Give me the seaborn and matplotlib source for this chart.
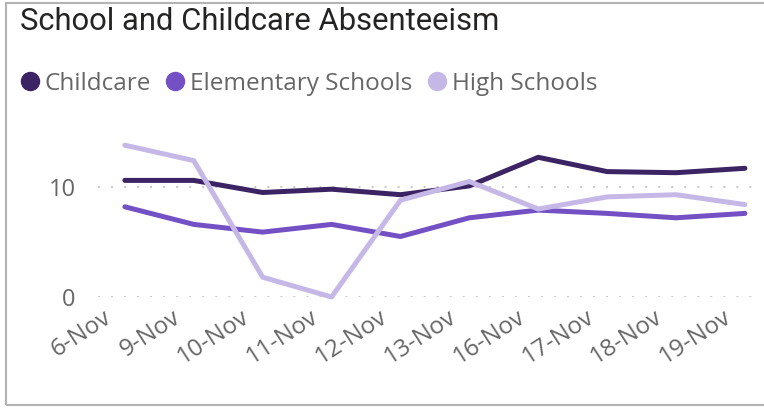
import pandas as pd
import matplotlib
matplotlib.use("Agg")
import matplotlib.pyplot as plt
import seaborn as sns
from matplotlib.lines import Line2D
from matplotlib.patches import Rectangle
from matplotlib.transforms import ScaledTranslation

dates = ["6-Nov", "9-Nov", "10-Nov", "11-Nov", "12-Nov",
         "13-Nov", "16-Nov", "17-Nov", "18-Nov", "19-Nov"]
childcare = [10.6, 10.6, 9.5, 9.8, 9.3, 10.1, 12.7, 11.4, 11.3, 11.7]
elementary = [8.2, 6.6, 5.9, 6.6, 5.5, 7.2, 7.9, 7.6, 7.2, 7.6]
high_schools = [13.8, 12.4, 1.8, 0.0, 8.8, 10.5, 8.0, 9.1, 9.3, 8.4]

series = ["Childcare", "Elementary Schools", "High Schools"]
colors = ["#3C2363", "#7450C5", "#C6B8E6"]

df = pd.concat([
    pd.DataFrame({"date": dates, "value": childcare, "group": series[0]}),
    pd.DataFrame({"date": dates, "value": elementary, "group": series[1]}),
    pd.DataFrame({"date": dates, "value": high_schools, "group": series[2]}),
])

sns.set_style("white")
plt.rcParams["font.family"] = ["Open Sans", "DejaVu Sans"]

fig = plt.figure(figsize=(7.64, 4.08), dpi=100)
ax = fig.add_axes([98 / 764, 1 - 297 / 408, 660 / 764, 165 / 408])

sns.lineplot(data=df, x="date", y="value", hue="group", palette=colors,
             hue_order=series, linewidth=3.6, sort=False, legend=False,
             ax=ax, solid_capstyle="round", clip_on=False)

# data runs from x=125px to x=745px inside an axes spanning 98..758
ax.set_xlim(-0.39, 9.19)
ax.set_ylim(0, 15)
ax.set_yticks([0, 10])
ax.set_xlabel("")
ax.set_ylabel("")
for y in [0, 10]:
    ax.axhline(y, color="#C8C8C8", linestyle=(0, (1, 5.7)), linewidth=1.4, zorder=0)
sns.despine(ax=ax, left=True, bottom=True)
ax.tick_params(axis="both", length=0, labelcolor="#666666")
ax.tick_params(axis="y", pad=16, labelsize=17)
ax.tick_params(axis="x", pad=6, labelsize=17.5)
fig.canvas.draw()
# slanted date labels sit a little left of their tick
shift = ScaledTranslation(-22 / 100, 0, fig.dpi_scale_trans)
for lbl in ax.get_xticklabels():
    lbl.set_rotation(33)
    lbl.set_ha("right")
    lbl.set_va("top")
    lbl.set_rotation_mode("anchor")
    lbl.set_transform(lbl.get_transform() + shift)

fig.text(20 / 764, 1 - 22 / 408, "School and Childcare Absenteeism",
         fontsize=22.3, color="#252423", va="center", ha="left", family="Roboto")

handles = [Line2D([], [], marker="o", linestyle="", markersize=13,
                  markerfacecolor=c, markeredgecolor=c) for c in colors]
fig.legend(handles, series, loc="center left",
           bbox_to_anchor=(20 / 764, 1 - 84 / 408), ncol=3, frameon=False,
           fontsize=17.5, labelcolor="#666666", handletextpad=0.2,
           columnspacing=0.62, handlelength=0.8, borderaxespad=0, borderpad=0)

fig.patches.append(Rectangle((6 / 764, 3 / 408), 1.2, 402 / 408,
                             transform=fig.transFigure, fill=False,
                             edgecolor="#B3B3B3", linewidth=1.5))

fig.canvas.draw()
fig.savefig("out.png", dpi=100)
